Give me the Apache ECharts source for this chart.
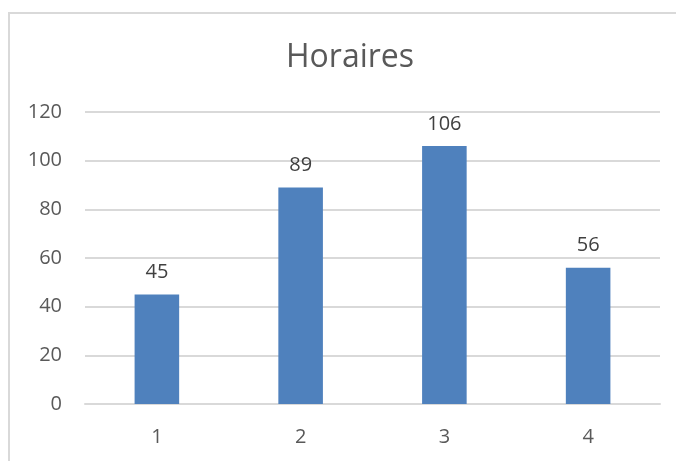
<!DOCTYPE html>
<html>
<head>
<meta charset="utf-8">
<script src="https://cdn.jsdelivr.net/npm/echarts@6/dist/echarts.min.js"></script>
<style>
html,body{margin:0;padding:0;background:#fff;}
#c{width:676px;height:461px;}
</style>
</head>
<body>
<div id="c"></div>
<script>
var categories = ['1', '2', '3', '4'];
var values = [45, 89, 106, 56];
var titleText = 'Horaires';

var chart = echarts.init(document.getElementById('c'));
chart.setOption({
  animation: false,
  backgroundColor: '#ffffff',
  title: {
    text: titleText,
    left: 281,
    top: 37,
    textStyle: {fontFamily: 'Open Sans', fontSize: 32, fontWeight: 'normal', color: '#595959'}
  },
  graphic: [{
    type: 'rect',
    shape: {x: 9, y: 13, width: 720, height: 520},
    style: {fill: 'none', stroke: '#d9d9d9', lineWidth: 2},
    silent: true
  }],
  grid: {left: 85, right: 16, top: 112, bottom: 57},
  xAxis: {
    type: 'category',
    data: categories,
    axisLine: {show: true, lineStyle: {color: '#d9d9d9', width: 2}},
    axisTick: {show: false},
    axisLabel: {fontFamily: 'Open Sans', fontSize: 20, color: '#595959', margin: 23}
  },
  yAxis: {
    type: 'value',
    min: 0, max: 120, interval: 20,
    axisLine: {show: false},
    axisTick: {show: false},
    splitLine: {lineStyle: {color: '#d9d9d9', width: 2}},
    axisLabel: {fontFamily: 'Open Sans', fontSize: 20, color: '#595959', margin: 23}
  },
  series: [{
    type: 'bar',
    data: values,
    barWidth: '31%',
    itemStyle: {color: '#4f81bd'},
    label: {show: true, position: 'top', distance: 12, fontFamily: 'Open Sans', fontSize: 20, color: '#404040'}
  }]
});
</script>
</body>
</html>
